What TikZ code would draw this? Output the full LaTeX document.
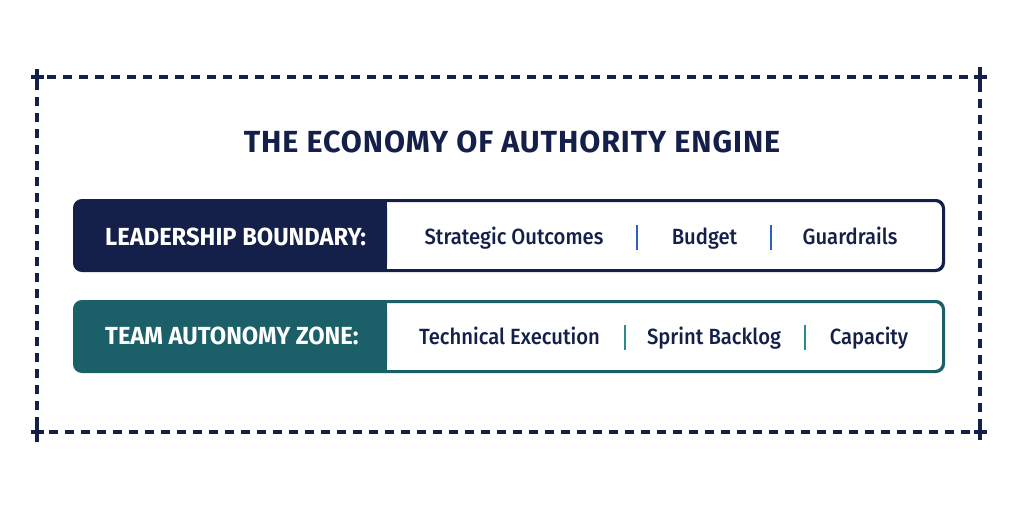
\documentclass[tikz,border=0pt]{standalone}
\usepackage{fontspec}
\setmainfont{Fira Sans}
\newfontfamily\titlefont{Fira Sans Bold}[LetterSpace=3]
\newfontfamily\labfont{Fira Sans Bold}[FakeStretch=0.96]
\newfontfamily\itemfont{Fira Sans Medium}[FakeStretch=0.92]
\definecolor{navy}{HTML}{14204A}
\definecolor{teal}{HTML}{1B5F69}
\definecolor{sepblue}{HTML}{2A62C0}
\definecolor{septeal}{HTML}{2A8A90}
\begin{document}
\begin{tikzpicture}[x=1pt,y=-1pt,
  frame/.style={navy,line width=3.4pt,dash pattern=on 9pt off 7pt},
  cross/.style={navy,line width=3.6pt},
  rowbox/.style={draw=#1,line width=2pt,rounded corners=8pt,fill=white,minimum width=868pt,minimum height=69pt,inner sep=0pt},
  lab/.style={text=white,font=\labfont\fontsize{24.7}{26}\selectfont,inner sep=0pt,anchor=base west},
  item/.style={text=navy,font=\itemfont\fontsize{22}{24}\selectfont,inner sep=0pt,anchor=base},
  sep/.style={line width=2.8pt,#1},
  title/.style={text=navy,font=\titlefont\fontsize{30.5}{32}\selectfont,inner sep=0pt,anchor=base}]
\useasboundingbox (0,0) rectangle (1024,512);
\fill[white] (0,0) rectangle (1024,512);
% frame
\coordinate (tl) at (37,77);
\coordinate (tr) at (980,77);
\coordinate (br) at (980,432);
\coordinate (bl) at (37,432);
\draw[frame] ([xshift=10pt]tl) -- ([xshift=-8pt]tr);
\draw[frame] ([yshift=10pt]tr) -- ([yshift=-8pt]br);
\draw[frame] ([xshift=-10pt]br) -- ([xshift=8pt]bl);
\draw[frame] ([yshift=-10pt]bl) -- ([yshift=8pt]tl);
\foreach \c in {tl,tr,br,bl}{
  \draw[cross] ([xshift=-6.5pt]\c) -- ([xshift=6.5pt]\c);
  \draw[cross] ([yshift=-6.5pt]\c) -- ([yshift=6.5pt]\c);
}
% title
\node[title] (title) at (512,152) {THE ECONOMY OF AUTHORITY ENGINE};
% row 1
\node[rowbox=navy] (r1) at (509,235.5) {};
\fill[navy,rounded corners=8pt] (r1.north west) rectangle ([xshift=313pt]r1.south west);
\fill[navy] ([xshift=290pt]r1.north west) rectangle ([xshift=313pt]r1.south west);
\draw[navy,line width=2pt,rounded corners=8pt] (r1.north west) rectangle (r1.south east);
\node[lab] (l1) at (105,245) {LEADERSHIP BOUNDARY:};
\node[item] (a1) at (514,244) {Strategic Outcomes};
\node[item] (a2) at (704.5,244) {Budget};
\node[item] (a3) at (850,244) {Guardrails};
\draw[sep=sepblue] (637,225) -- (637,250);
\draw[sep=sepblue] (771,225) -- (771,250);
% row 2
\node[rowbox=teal] (r2) at (509,336.5) {};
\fill[teal,rounded corners=8pt] (r2.north west) rectangle ([xshift=313pt]r2.south west);
\fill[teal] ([xshift=290pt]r2.north west) rectangle ([xshift=313pt]r2.south west);
\draw[teal,line width=2pt,rounded corners=8pt] (r2.north west) rectangle (r2.south east);
\node[lab] (l2) at (105,344) {TEAM AUTONOMY ZONE:};
\node[item] (b1) at (509.5,344) {Technical Execution};
\node[item] (b2) at (714,344) {Sprint Backlog};
\node[item] (b3) at (869,344) {Capacity};
\draw[sep=septeal] (625,325) -- (625,350);
\draw[sep=septeal] (805,325) -- (805,350);
\end{tikzpicture}
\end{document}
